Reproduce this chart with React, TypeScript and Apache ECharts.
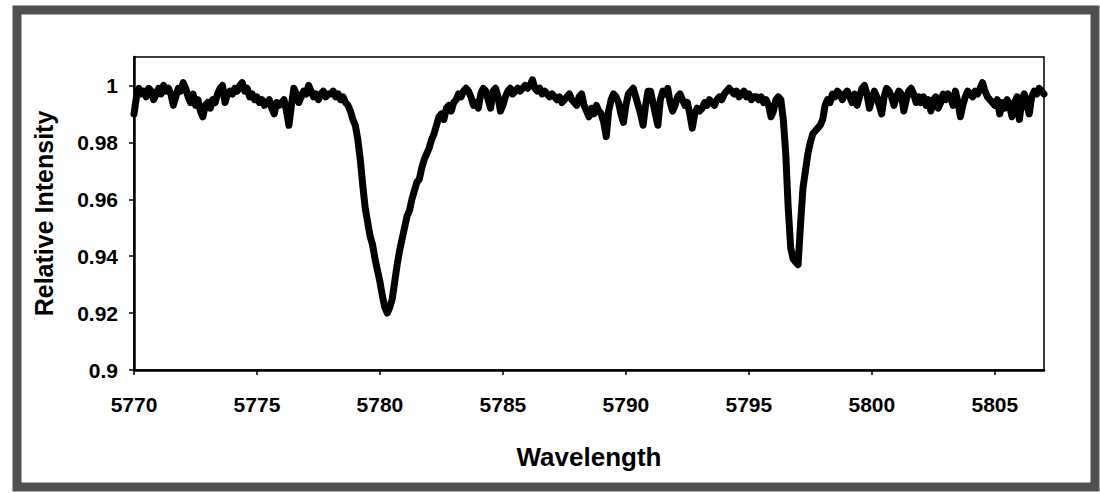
import React, { useEffect, useRef } from "react";
import * as echarts from "echarts";

const WAVELENGTH_START = 5770;
const WAVELENGTH_STEP = 0.1;

// Relative intensity sampled every 0.1 Å from 5770.0 to 5807.0 (one row per Å)
const intensity: number[] = [
  0.990, 0.996, 0.999, 0.997, 0.998, 0.996, 0.999, 0.998, 0.995, 0.997, // 5770
  0.999, 0.997, 1.000, 0.998, 0.999, 0.997, 0.993, 0.996, 0.999, 0.998, // 5771
  1.001, 0.999, 0.996, 0.994, 0.997, 0.993, 0.995, 0.991, 0.989, 0.993, // 5772
  0.994, 0.992, 0.995, 0.994, 0.997, 0.999, 1.000, 0.994, 0.997, 0.998, // 5773
  0.997, 0.999, 0.998, 1.000, 1.001, 0.998, 0.999, 0.996, 0.997, 0.995, // 5774
  0.996, 0.994, 0.995, 0.993, 0.994, 0.995, 0.992, 0.990, 0.994, 0.993, // 5775
  0.994, 0.995, 0.991, 0.986, 0.993, 0.999, 0.997, 0.994, 0.996, 0.998, // 5776
  0.997, 1.000, 0.998, 0.996, 0.997, 0.995, 0.997, 0.998, 0.996, 0.997, // 5777
  0.997, 0.998, 0.996, 0.997, 0.995, 0.996, 0.994, 0.993, 0.991, 0.988, // 5778
  0.986, 0.981, 0.974, 0.965, 0.957, 0.952, 0.947, 0.944, 0.939, 0.935, // 5779
  0.931, 0.926, 0.922, 0.920, 0.922, 0.925, 0.931, 0.937, 0.942, 0.946, // 5780
  0.950, 0.954, 0.956, 0.960, 0.963, 0.966, 0.967, 0.971, 0.974, 0.976, // 5781
  0.978, 0.981, 0.983, 0.986, 0.989, 0.990, 0.988, 0.992, 0.993, 0.991, // 5782
  0.994, 0.995, 0.997, 0.996, 0.998, 0.999, 0.998, 0.996, 0.993, 0.994, // 5783
  0.992, 0.997, 0.999, 0.998, 0.995, 0.992, 0.998, 0.999, 0.996, 0.991, // 5784
  0.993, 0.996, 0.998, 0.999, 0.997, 0.998, 0.999, 0.998, 0.999, 1.000, // 5785
  0.999, 1.000, 1.002, 0.999, 0.998, 0.999, 0.997, 0.998, 0.997, 0.996, // 5786
  0.997, 0.996, 0.995, 0.996, 0.994, 0.995, 0.996, 0.997, 0.995, 0.994, // 5787
  0.993, 0.996, 0.997, 0.993, 0.991, 0.989, 0.992, 0.990, 0.993, 0.991, // 5788
  0.990, 0.987, 0.982, 0.991, 0.995, 0.997, 0.996, 0.994, 0.990, 0.987, // 5789
  0.993, 0.997, 0.998, 0.999, 0.996, 0.993, 0.990, 0.986, 0.993, 0.998, // 5790
  0.998, 0.994, 0.990, 0.986, 0.995, 0.998, 0.997, 0.999, 0.994, 0.991, // 5791
  0.993, 0.996, 0.997, 0.995, 0.993, 0.994, 0.990, 0.985, 0.990, 0.992, // 5792
  0.991, 0.992, 0.994, 0.993, 0.995, 0.994, 0.993, 0.995, 0.996, 0.995, // 5793
  0.997, 0.998, 0.999, 0.998, 0.997, 0.998, 0.996, 0.997, 0.998, 0.996, // 5794
  0.997, 0.995, 0.996, 0.996, 0.995, 0.996, 0.994, 0.995, 0.993, 0.989, // 5795
  0.991, 0.995, 0.996, 0.995, 0.988, 0.976, 0.957, 0.943, 0.939, 0.938, // 5796
  0.937, 0.951, 0.964, 0.970, 0.976, 0.980, 0.983, 0.984, 0.985, 0.986, // 5797
  0.988, 0.993, 0.995, 0.994, 0.997, 0.996, 0.998, 0.997, 0.995, 0.997, // 5798
  0.998, 0.996, 0.994, 0.997, 0.993, 0.996, 0.999, 1.000, 0.997, 0.992, // 5799
  0.995, 0.998, 0.996, 0.993, 0.990, 0.996, 0.999, 0.998, 0.996, 0.993, // 5800
  0.996, 0.998, 0.997, 0.991, 0.995, 0.998, 0.999, 0.997, 0.994, 0.996, // 5801
  0.994, 0.996, 0.993, 0.995, 0.991, 0.995, 0.996, 0.992, 0.994, 0.997, // 5802
  0.995, 0.997, 0.996, 0.993, 0.998, 0.994, 0.989, 0.993, 0.996, 0.998, // 5803
  0.997, 0.996, 0.998, 0.997, 0.999, 1.001, 0.998, 0.996, 0.995, 0.994, // 5804
  0.993, 0.995, 0.990, 0.994, 0.992, 0.995, 0.993, 0.989, 0.994, 0.996, // 5805
  0.988, 0.995, 0.997, 0.993, 0.990, 0.996, 0.998, 0.997, 0.999, 0.998, // 5806
  0.997, // 5807
];

const X_TICKS = [5770, 5775, 5780, 5785, 5790, 5795, 5800, 5805];
const Y_TICKS = [0.9, 0.92, 0.94, 0.96, 0.98, 1];

const FONT = "'Liberation Sans', Arial, Helvetica, sans-serif";

export default function App() {
  const ref = useRef<HTMLDivElement>(null);

  useEffect(() => {
    if (!ref.current) return;
    const chart = echarts.init(ref.current, null, { renderer: "svg" });
    const data = intensity.map((v, i) => [
      +(WAVELENGTH_START + i * WAVELENGTH_STEP).toFixed(1),
      v,
    ]);
    chart.setOption({
      animation: false,
      backgroundColor: "#ffffff",
      grid: {
        left: 134,
        right: 56,
        top: 57,
        bottom: 124,
        show: true,
        borderColor: "#000",
        borderWidth: 1.5,
        backgroundColor: "transparent",
      },
      graphic: [
        {
          type: "rect",
          shape: { x: 17, y: 10, width: 1078, height: 477 },
          style: { fill: "none", stroke: "#505050", lineWidth: 9 },
          silent: true,
        },
      ],
      xAxis: {
        type: "value",
        min: 5770,
        max: 5807,
        interval: 5,
        name: "Wavelength",
        nameLocation: "middle",
        nameGap: 74,
        nameTextStyle: { fontFamily: FONT, fontWeight: "bold", fontSize: 26, color: "#000" },
        axisLine: { show: true, lineStyle: { color: "#000", width: 2.5 } },
        axisTick: { show: true, length: 5, lineStyle: { color: "#000", width: 1.5 } },
        splitLine: { show: false },
        axisLabel: {
          show: true,
          margin: 24,
          showMaxLabel: false,
          fontFamily: FONT,
          fontWeight: "bold",
          fontSize: 21,
          color: "#000",
          formatter: (v: number) => (X_TICKS.includes(v) ? String(v) : ""),
        },
      },
      yAxis: {
        type: "value",
        min: 0.9,
        max: 1.01,
        interval: 0.02,
        name: "Relative Intensity",
        nameLocation: "middle",
        nameGap: 78,
        nameTextStyle: { fontFamily: FONT, fontWeight: "bold", fontSize: 25, color: "#000" },
        axisLine: { show: true, lineStyle: { color: "#000", width: 2.5 } },
        axisTick: { show: true, length: 5, lineStyle: { color: "#000", width: 1.5 } },
        splitLine: { show: false },
        axisLabel: {
          show: true,
          margin: 16,
          showMaxLabel: false,
          fontFamily: FONT,
          fontWeight: "bold",
          fontSize: 21,
          color: "#000",
          formatter: (v: number) => {
            const r = +v.toFixed(2);
            return Y_TICKS.some((t) => Math.abs(t - r) < 1e-6) ? String(r) : "";
          },
        },
      },
      series: [
        {
          type: "line",
          data,
          showSymbol: false,
          symbol: "none",
          lineStyle: { color: "#000", width: 7, join: "round", cap: "round" },
          clip: true,
          z: 3,
        },
      ],
    });
    return () => chart.dispose();
  }, []);

  return (
    <div
      ref={ref}
      style={{ position: "fixed", left: 0, top: 0, width: 1100, height: 494, background: "#fff" }}
    />
  );
}
